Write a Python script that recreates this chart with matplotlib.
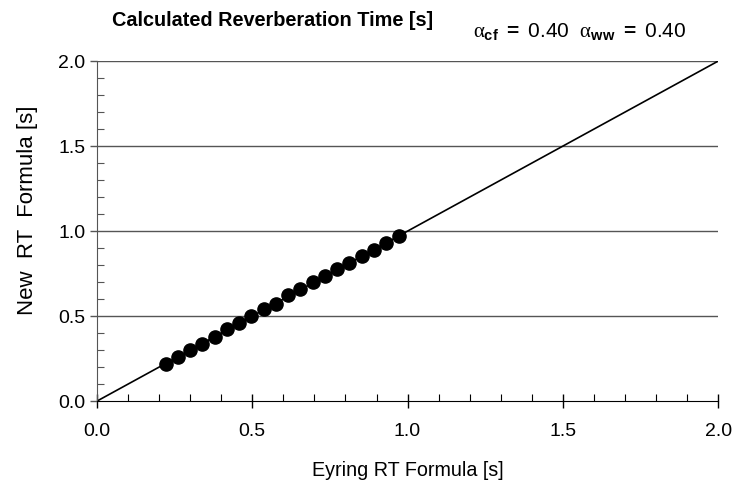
import matplotlib
matplotlib.use("Agg")
import matplotlib.pyplot as plt
from matplotlib.ticker import MultipleLocator

plt.rcParams["font.family"] = ["Liberation Sans", "DejaVu Sans"]
plt.rcParams["mathtext.fontset"] = "custom"
plt.rcParams["mathtext.rm"] = "Liberation Sans"
plt.rcParams["mathtext.it"] = "Liberation Serif"
plt.rcParams["mathtext.bf"] = "Liberation Sans:bold"

# Eyring RT vs new RT formula
eyring_rt = [0.222, 0.261, 0.300, 0.339, 0.379, 0.418, 0.457, 0.497, 0.537, 0.576,
             0.616, 0.655, 0.695, 0.734, 0.774, 0.813, 0.853, 0.892, 0.932, 0.971]
new_rt = [0.221, 0.261, 0.301, 0.338, 0.376, 0.424, 0.460, 0.500, 0.540, 0.574,
          0.622, 0.657, 0.701, 0.737, 0.777, 0.815, 0.853, 0.890, 0.932, 0.970]
diag = [0.0, 2.0]
alpha_cf = 0.40
alpha_ww = 0.40

fig = plt.figure(figsize=(7.35, 4.97), dpi=100)
ax = fig.add_axes([0.132, 0.193, 0.845, 0.684])

for yv in [0.5, 1.0, 1.5, 2.0]:
    ax.axhline(yv, color="#555555", lw=1.0, zorder=1)
ax.plot(diag, diag, color="black", lw=1.2, zorder=2)
ax.plot(eyring_rt, new_rt, "o", color="black", ms=9.5, zorder=3)

ax.set_xlim(0, 2.0)
ax.set_ylim(0, 2.0)
ax.xaxis.set_major_locator(MultipleLocator(0.5))
ax.xaxis.set_minor_locator(MultipleLocator(0.1))
ax.yaxis.set_major_locator(MultipleLocator(0.5))
ax.yaxis.set_minor_locator(MultipleLocator(0.1))
ax.xaxis.set_major_formatter(lambda v, p: f"{v:.1f}")
ax.yaxis.set_major_formatter(lambda v, p: f"{v:.1f}")

for s in ["top", "right"]:
    ax.spines[s].set_visible(False)
ax.spines["left"].set_color("#555555")
ax.spines["bottom"].set_color("black")

ax.tick_params(axis="x", which="major", direction="inout", length=10, width=1,
               labelsize=14, pad=11)
ax.tick_params(axis="x", which="minor", direction="in", length=5, width=0.8)
ax.tick_params(axis="y", which="major", direction="out", length=5, width=1,
               labelsize=14, color="#555555")
ax.tick_params(axis="y", which="minor", direction="in", length=5, width=0.8,
               color="#555555")

ax.set_xlabel("Eyring RT Formula [s]", fontsize=14.2, labelpad=15)
fig.text(28 / 735, 1 - 210 / 497, "New  RT  Formula [s]", fontsize=16,
         rotation=90, ha="center", va="center")

fig.text(112 / 735, 1 - 20 / 497, "Calculated Reverberation Time [s]",
         fontsize=14.3, fontweight="bold", va="center", ha="left")
fig.text(473 / 735, 1 - 32 / 497,
         r"$\alpha_{\mathbf{cf}}$ $\mathbf{=}$" + f" {alpha_cf:.2f}  " +
         r"$\alpha_{\mathbf{ww}}$ $\mathbf{=}$" + f" {alpha_ww:.2f}",
         fontsize=15, va="center", ha="left")

fig.savefig("out.png", dpi=100)
